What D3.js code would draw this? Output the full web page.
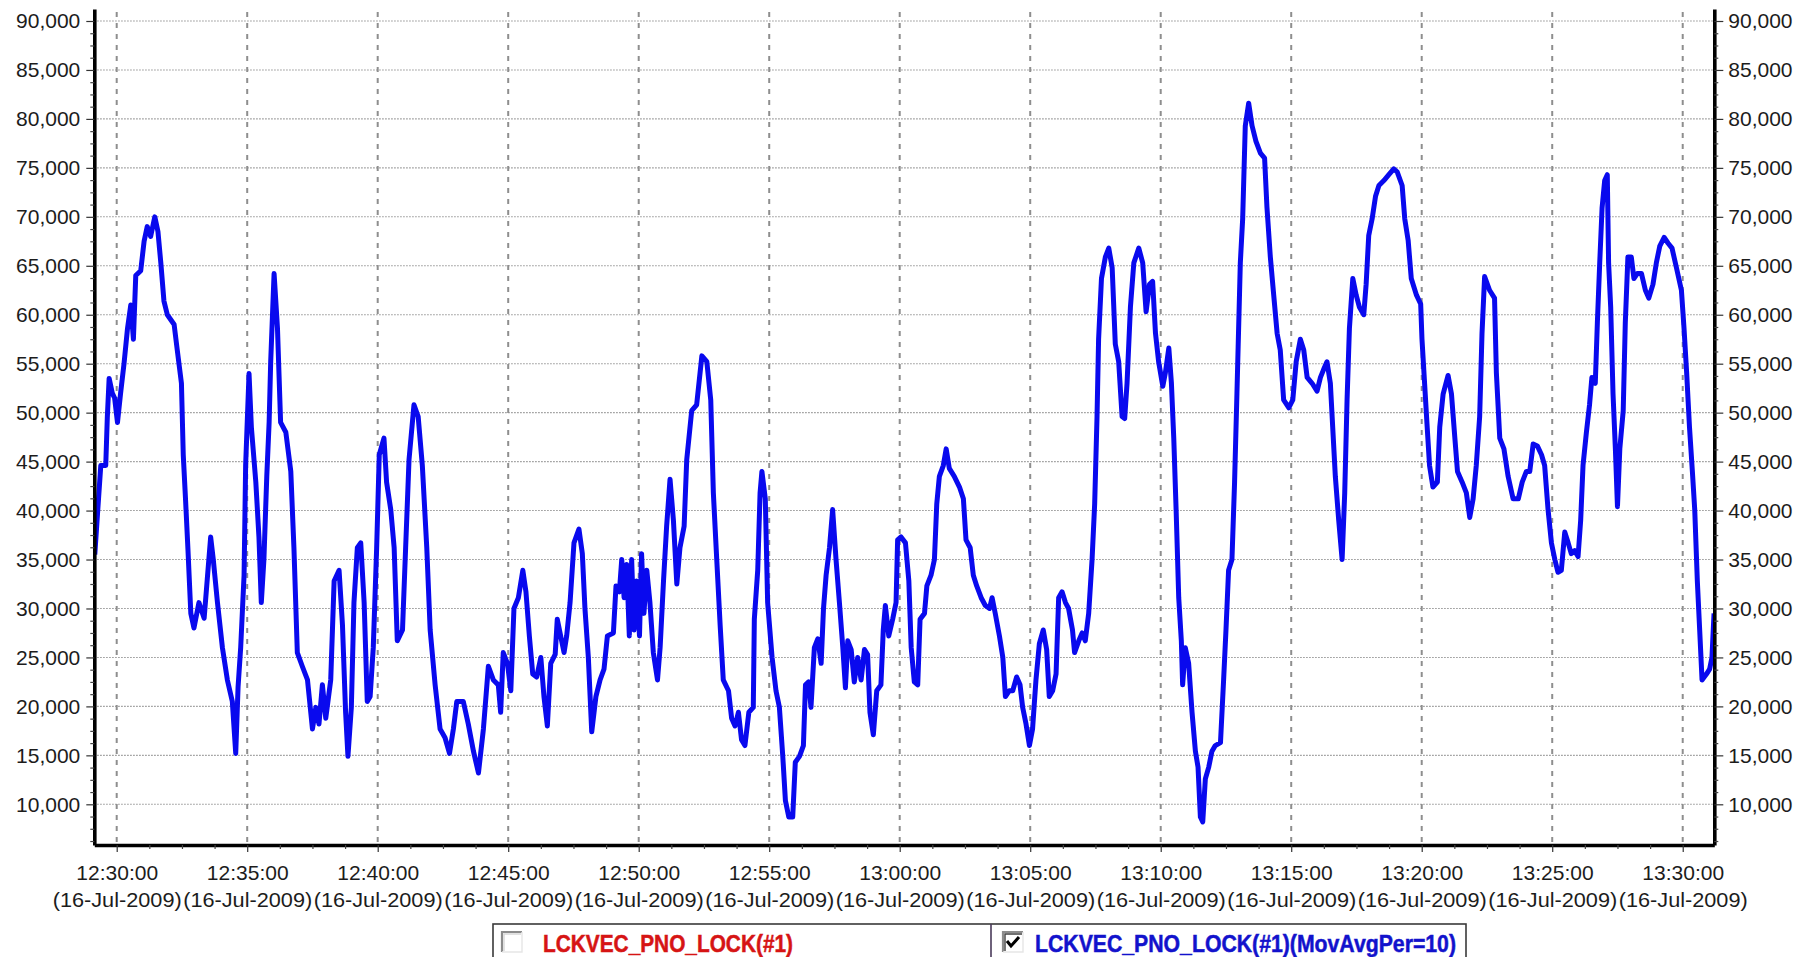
<!DOCTYPE html>
<html>
<head>
<meta charset="utf-8">
<script src="https://cdn.jsdelivr.net/npm/d3@7"></script>
<style>
  html, body { margin: 0; padding: 0; background: #ffffff; }
  svg { display: block; font-family: "Liberation Sans", Arial, sans-serif; }
</style>
</head>
<body>
<svg id="chart" width="1797" height="957"></svg>
<script>
// ---- data -------------------------------------------------------------
const startTime   = "2009-07-16T12:30:00";
const domainStart = "2009-07-16T12:29:08.500";
const domainEnd   = "2009-07-16T13:31:12.600";
const yDomain     = [5844, 91225];
const yTickValues = [10000, 15000, 20000, 25000, 30000, 35000, 40000, 45000, 50000,
                     55000, 60000, 65000, 70000, 75000, 80000, 85000, 90000];

// sample times, minutes after 12:30:00
const offsetMinutes = [
  -0.84, -0.74, -0.61, -0.42, -0.36, -0.29, -0.17, -0.08, 0.03, 0.15,
  0.28, 0.41, 0.54, 0.64, 0.73, 0.92, 1.05, 1.17, 1.30, 1.46,
  1.58, 1.69, 1.81, 1.94, 2.20, 2.32, 2.48, 2.55, 2.64, 2.73,
  2.84, 2.96, 3.15, 3.35, 3.47, 3.60, 3.70, 3.86, 4.05, 4.24,
  4.43, 4.56, 4.65, 4.75, 4.88, 4.94, 5.07, 5.16, 5.33, 5.45,
  5.54, 5.64, 5.75, 5.84, 5.90, 6.03, 6.16, 6.28, 6.48, 6.67,
  6.79, 6.92, 7.11, 7.31, 7.50, 7.63, 7.75, 7.88, 8.01, 8.20,
  8.33, 8.52, 8.65, 8.77, 8.86, 8.99, 9.09, 9.22, 9.35, 9.48,
  9.60, 9.71, 9.83, 9.96, 10.06, 10.24, 10.34, 10.50, 10.63, 10.75,
  10.95, 11.07, 11.20, 11.39, 11.55, 11.71, 11.88, 12.01, 12.20, 12.39,
  12.58, 12.75, 12.90, 13.03, 13.28, 13.47, 13.67, 13.86, 14.05, 14.24,
  14.43, 14.62, 14.71, 14.81, 14.97, 15.10, 15.22, 15.39, 15.56, 15.68,
  15.81, 15.94, 16.09, 16.25, 16.37, 16.50, 16.63, 16.80, 16.88, 17.01,
  17.14, 17.24, 17.37, 17.52, 17.71, 17.84, 17.94, 18.07, 18.20, 18.36,
  18.52, 18.67, 18.80, 19.03, 19.13, 19.26, 19.35, 19.44, 19.54, 19.64,
  19.73, 19.82, 19.92, 20.03, 20.11, 20.20, 20.31, 20.43, 20.56, 20.72,
  20.82, 20.95, 21.07, 21.20, 21.33, 21.46, 21.58, 21.74, 21.84, 22.03,
  22.22, 22.42, 22.61, 22.76, 22.86, 22.99, 23.12, 23.24, 23.44, 23.56,
  23.69, 23.82, 23.94, 24.07, 24.22, 24.39, 24.43, 24.56, 24.65, 24.72,
  24.85, 24.94, 25.11, 25.26, 25.39, 25.52, 25.62, 25.75, 25.90, 26.00,
  26.16, 26.31, 26.39, 26.51, 26.60, 26.73, 26.86, 26.99, 27.08, 27.18,
  27.31, 27.43, 27.56, 27.69, 27.82, 27.92, 28.01, 28.14, 28.26, 28.39,
  28.52, 28.65, 28.77, 28.86, 28.99, 29.12, 29.28, 29.37, 29.45, 29.58,
  29.73, 29.86, 29.92, 30.05, 30.22, 30.35, 30.44, 30.56, 30.69, 30.78,
  30.95, 31.04, 31.20, 31.33, 31.42, 31.52, 31.67, 31.78, 31.90, 32.09,
  32.29, 32.44, 32.54, 32.70, 32.82, 32.95, 33.12, 33.28, 33.44, 33.54,
  33.66, 33.82, 33.95, 34.05, 34.20, 34.33, 34.48, 34.61, 34.71, 34.84,
  34.97, 35.09, 35.22, 35.35, 35.50, 35.63, 35.73, 35.86, 35.99, 36.09,
  36.22, 36.35, 36.47, 36.62, 36.70, 36.86, 36.99, 37.11, 37.24, 37.37,
  37.47, 37.56, 37.62, 37.73, 37.88, 38.01, 38.14, 38.26, 38.39, 38.52,
  38.62, 38.71, 38.84, 38.97, 39.16, 39.31, 39.44, 39.57, 39.69, 39.80,
  39.92, 40.08, 40.18, 40.31, 40.41, 40.50, 40.59, 40.69, 40.79, 40.84,
  40.94, 41.07, 41.20, 41.33, 41.43, 41.52, 41.61, 41.71, 41.84, 41.96,
  42.09, 42.29, 42.41, 42.50, 42.60, 42.73, 42.83, 42.92, 43.05, 43.14,
  43.24, 43.37, 43.50, 43.65, 43.82, 43.98, 44.07, 44.20, 44.33, 44.46,
  44.58, 44.71, 44.91, 45.06, 45.19, 45.35, 45.48, 45.61, 45.80, 45.99,
  46.12, 46.24, 46.37, 46.50, 46.59, 46.69, 46.82, 46.95, 47.05, 47.14,
  47.23, 47.36, 47.49, 47.61, 47.78, 47.87, 47.97, 48.10, 48.23, 48.36,
  48.55, 48.74, 48.93, 49.06, 49.25, 49.35, 49.48, 49.60, 49.80, 49.96,
  50.01, 50.11, 50.21, 50.30, 50.43, 50.60, 50.69, 50.82, 51.01, 51.14,
  51.27, 51.37, 51.55, 51.71, 51.84, 51.97, 52.09, 52.22, 52.31, 52.41,
  52.60, 52.79, 52.86, 52.99, 53.15, 53.31, 53.50, 53.70, 53.85, 54.01,
  54.14, 54.27, 54.43, 54.59, 54.71, 54.84, 54.97, 55.10, 55.22, 55.35,
  55.48, 55.61, 55.73, 55.86, 55.99, 56.09, 56.18, 56.31, 56.43, 56.52,
  56.65, 56.73, 56.82, 56.91, 57.01, 57.11, 57.16, 57.24, 57.33, 57.42,
  57.50, 57.59, 57.72, 57.80, 57.90, 58.03, 58.13, 58.26, 58.42, 58.57,
  58.70, 58.86, 58.99, 59.12, 59.29, 59.44, 59.59, 59.76, 59.95, 60.05,
  60.15, 60.26, 60.37, 60.46, 60.56, 60.65, 60.74, 60.91, 61.03, 61.12,
  61.20
];

// LCKVEC_PNO_LOCK(#1), 10-period moving average
const lockCounts = [
  35500, 39500, 44600, 44600, 49500, 53500, 52000, 51500, 49000, 52000,
  55000, 58500, 61000, 57500, 64000, 64500, 67500, 69000, 68000, 70000,
  68500, 65300, 61400, 60000, 59000, 56400, 53000, 45700, 41000, 36000,
  29500, 28000, 30600, 29000, 33000, 37300, 35000, 30600, 26000, 22700,
  20500, 15200, 22000, 26000, 33400, 44600, 54000, 48500, 42900, 37300,
  30600, 35000, 43500, 49000, 55200, 64200, 58600, 49000, 48000, 44000,
  36200, 25500, 24100, 22700, 17700, 19900, 18200, 22200, 18800, 22700,
  32800, 33900, 28300, 19400, 14900, 19900, 30600, 36200, 36700, 30600,
  20500, 21000, 26000, 36200, 45700, 47400, 42900, 40100, 36200, 26700,
  27800, 36200, 45200, 50800, 49600, 44600, 36200, 27800, 22200, 17700,
  16800, 15200, 17700, 20500, 20500, 18200, 15400, 13200, 17700, 24100,
  22700, 22200, 19400, 25500, 24400, 21600, 30000, 31100, 33900, 31700,
  27200, 23300, 23000, 25000, 21000, 18000, 24400, 25300, 28900, 27200,
  25500, 27200, 30600, 36700, 38100, 35600, 30000, 25000, 17400, 21000,
  22700, 23800, 27200, 27500, 32300, 31700, 35000, 31100, 34500, 27200,
  35000, 27800, 32800, 27200, 35600, 29500, 33900, 30600, 25500, 22700,
  26000, 32800, 38400, 43200, 39000, 32500, 36200, 38400, 45200, 50200,
  50800, 55800, 55200, 51300, 41800, 35000, 28300, 22700, 21600, 18800,
  18000, 19400, 16600, 16000, 19400, 19900, 28900, 33900, 41800, 44000,
  41200, 30600, 25000, 21600, 19900, 14900, 10400, 8700, 8700, 14300,
  14900, 16000, 22200, 22500, 19900, 26000, 26900, 24400, 30000, 33400,
  36200, 40100, 35000, 30600, 26000, 21900, 26700, 25800, 22500, 25000,
  22700, 25800, 25300, 19400, 17100, 21600, 22200, 27800, 30300, 27200,
  28900, 30600, 37000, 37300, 36700, 32800, 26000, 22500, 22200, 28900,
  29500, 32300, 33400, 35000, 40700, 43500, 44600, 46300, 44300, 43500,
  42400, 41200, 37000, 36200, 33400, 32300, 31100, 30300, 30000, 31100,
  29500, 27200, 25000, 21000, 21600, 21600, 23000, 22200, 19900, 18200,
  16000, 17700, 22700, 26400, 27800, 25800, 21000, 21600, 23300, 31100,
  31700, 30600, 30000, 27800, 25500, 26700, 27500, 26700, 29500, 35000,
  40700, 49600, 57500, 63700, 65900, 66800, 64800, 57000, 55200, 49600,
  49400, 53000, 60800, 65300, 66800, 65300, 60300, 63100, 63400, 58100,
  55200, 52700, 54100, 56600, 53000, 47400, 40100, 31100, 26700, 22200,
  26000, 24400, 19400, 15400, 13800, 8700, 8200, 12600, 13800, 15400,
  16000, 16300, 22700, 27800, 33900, 35000, 42900, 51900, 65300, 69800,
  79300, 81600, 79300, 77700, 76500, 76000, 71000, 65900, 62000, 58100,
  56400, 51300, 50500, 51300, 55200, 57500, 56400, 53600, 53000, 52200,
  53600, 54400, 55200, 53000, 48500, 43500, 39000, 35000, 41800, 51300,
  58600, 63700, 62000, 60800, 60000, 63100, 68100, 69800, 72100, 73200,
  73700, 74300, 74900, 74600, 73200, 69800, 67600, 63700, 62000, 61100,
  57500, 53000, 48500, 44600, 42400, 42900, 48500, 51900, 53800, 51900,
  47400, 44000, 42900, 41800, 39300, 41200, 44600, 49600, 58100, 63900,
  62500, 61700, 54100, 47400, 46300, 43500, 41200, 41200, 42900, 44000,
  44000, 46800, 46600, 45700, 44600, 40100, 36700, 35000, 33700, 33900,
  37800, 36700, 35600, 35900, 35300, 39000, 44600, 48000, 50800, 53600,
  53000, 59200, 65300, 70900, 73700, 74300, 65300, 60800, 51900, 46300,
  40400, 46300, 50200, 59200, 65900, 65900, 63700, 64200, 64200, 62500,
  61700, 63100, 65300, 67000, 67900, 67300, 66800, 64800, 62500, 58600,
  54100, 48500, 44000, 40100, 32800, 27800, 22700, 23300, 23800, 25000,
  29500
];

const legendLabels  = ["LCKVEC_PNO_LOCK(#1)", "LCKVEC_PNO_LOCK(#1)(MovAvgPer=10)"];
const legendColors  = ["#d61414", "#1212cc"];
const legendChecked = [false, true];

// ---- layout -----------------------------------------------------------
const plot = { left: 94.3, right: 1714.3, top: 9, bottom: 845 };
const lineColor = "#0909ee";
const textColor = "#1c1c1c";

const svg = d3.select("#chart");

const t0 = new Date(startTime);
const points = offsetMinutes.map((m, i) => ({
  time: new Date(t0.getTime() + m * 60000),
  value: lockCounts[i]
}));

const x = d3.scaleTime()
  .domain([new Date(domainStart), new Date(domainEnd)])
  .range([plot.left, plot.right]);

const y = d3.scaleLinear()
  .domain(yDomain)
  .range([plot.bottom, plot.top]);

const xMajor = d3.timeMinute.every(5).range(x.domain()[0], x.domain()[1]);
const xMinor = d3.range(-2, 60)
  .map(k => new Date(t0.getTime() + k * 75000))
  .filter(d => d > x.domain()[0] && d < x.domain()[1] && (d - t0) % 300000 !== 0);
const yMinor = d3.range(5000, 92500, 1250)
  .filter(v => v > yDomain[0] && v < yDomain[1] && v % 5000 !== 0);

// ---- grid -------------------------------------------------------------
const grid = svg.append("g").attr("class", "grid");
grid.selectAll("line.h")
  .data(yTickValues)
  .join("line")
  .attr("class", "h")
  .attr("x1", plot.left).attr("x2", plot.right)
  .attr("y1", d => y(d)).attr("y2", d => y(d))
  .attr("stroke", "#808080")
  .attr("stroke-width", 1.1)
  .attr("stroke-dasharray", "1.3,1.7");

grid.selectAll("line.v")
  .data(xMajor)
  .join("line")
  .attr("class", "v")
  .attr("x1", d => x(d)).attr("x2", d => x(d))
  .attr("y1", plot.top + 3).attr("y2", plot.bottom)
  .attr("stroke", "#8e8e8e")
  .attr("stroke-width", 2)
  .attr("stroke-dasharray", "5,6");

// ---- series line --------------------------------------------------------
svg.append("clipPath").attr("id", "plot-clip")
  .append("rect")
  .attr("x", plot.left).attr("y", plot.top)
  .attr("width", plot.right - plot.left)
  .attr("height", plot.bottom - plot.top);

const line = d3.line()
  .x(d => x(d.time))
  .y(d => y(d.value))
  .curve(d3.curveLinear);

svg.append("path")
  .datum(points)
  .attr("clip-path", "url(#plot-clip)")
  .attr("fill", "none")
  .attr("stroke", lineColor)
  .attr("stroke-width", 5)
  .attr("stroke-linejoin", "round")
  .attr("stroke-linecap", "butt")
  .attr("d", line);

// ---- axes ---------------------------------------------------------------
const fmtNum  = d3.format(",");
const fmtTime = d3.timeFormat("%H:%M:%S");
const fmtDate = d3.timeFormat("(%d-%b-%Y)");

function styleAxis(g, lineWidth) {
  g.attr("font-family", null).attr("font-size", null);
  g.select(".domain").attr("stroke", "#000").attr("stroke-width", lineWidth);
  g.selectAll(".tick line").attr("stroke", "#333").attr("stroke-width", 1.2);
  g.selectAll(".tick text")
    .attr("fill", textColor)
    .style("font-size", "21px")
    .style("font-family", "'Liberation Sans', Arial, sans-serif");
}

// left axis
const yLeft = svg.append("g")
  .attr("transform", `translate(${plot.left},0)`)
  .call(d3.axisLeft(y).tickValues(yTickValues).tickFormat(fmtNum)
    .tickSize(8).tickSizeOuter(0).tickPadding(6));
styleAxis(yLeft, 3.6);

svg.append("g")
  .attr("transform", `translate(${plot.left},0)`)
  .call(d3.axisLeft(y).tickValues(yMinor).tickFormat("").tickSize(4).tickSizeOuter(0))
  .call(g => g.select(".domain").remove())
  .call(g => g.selectAll(".tick line").attr("stroke", "#444").attr("stroke-width", 1.2));

// right axis
const yRight = svg.append("g")
  .attr("transform", `translate(${plot.right},0)`)
  .call(d3.axisRight(y).tickValues(yTickValues).tickFormat(fmtNum)
    .tickSize(9).tickSizeOuter(0).tickPadding(5));
styleAxis(yRight, 3.6);

svg.append("g")
  .attr("transform", `translate(${plot.right},0)`)
  .call(d3.axisRight(y).tickValues(yMinor).tickFormat("").tickSize(4).tickSizeOuter(0))
  .call(g => g.select(".domain").remove())
  .call(g => g.selectAll(".tick line").attr("stroke", "#444").attr("stroke-width", 1.2));

// bottom axis with two-line time labels
const xAxisG = svg.append("g")
  .attr("transform", `translate(0,${plot.bottom})`)
  .call(d3.axisBottom(x).tickValues(xMajor).tickFormat(fmtTime)
    .tickSize(7).tickSizeOuter(0));
styleAxis(xAxisG, 3.6);
xAxisG.selectAll(".tick text").each(function (d) {
  const t = d3.select(this).text(null).attr("y", null).attr("dy", null);
  t.append("tspan").attr("x", 0).attr("y", 35).text(fmtTime(d));
  t.append("tspan").attr("x", -64.5).attr("y", 62)
    .attr("text-anchor", "start")
    .attr("textLength", 129)
    .attr("lengthAdjust", "spacingAndGlyphs")
    .text(fmtDate(d));
});

svg.append("g")
  .attr("transform", `translate(0,${plot.bottom})`)
  .call(d3.axisBottom(x).tickValues(xMinor).tickFormat("").tickSize(4).tickSizeOuter(0))
  .call(g => g.select(".domain").remove())
  .call(g => g.selectAll(".tick line").attr("stroke", "#444").attr("stroke-width", 1.2));

// ---- legend -------------------------------------------------------------
const legend = svg.append("g").attr("class", "legend");
const legendBox = { x: 493, y: 924, w: 973, h: 50, divider: 991 };
const cells = [
  { x0: legendBox.x, box: 502, text: 543, width: 250 },
  { x0: legendBox.divider, box: 1003, text: 1035, width: 421 }
];

legend.append("rect")
  .attr("x", legendBox.x).attr("y", legendBox.y)
  .attr("width", legendBox.w).attr("height", legendBox.h)
  .attr("fill", "#ffffff")
  .attr("stroke", "#3a3a3a").attr("stroke-width", 1.6);
legend.append("line")
  .attr("x1", legendBox.divider).attr("x2", legendBox.divider)
  .attr("y1", legendBox.y).attr("y2", legendBox.y + legendBox.h)
  .attr("stroke", "#4a3a5a").attr("stroke-width", 1.6);

legendLabels.forEach((label, i) => {
  const c = cells[i];
  const g = legend.append("g");
  const bx = c.box, by = 932, bs = 20;
  // sunken check box
  g.append("rect").attr("x", bx).attr("y", by).attr("width", bs).attr("height", bs)
    .attr("fill", "#ffffff");
  g.append("path")
    .attr("d", `M${bx},${by + bs} V${by} H${bx + bs}`)
    .attr("fill", "none").attr("stroke", "#8c8c8c").attr("stroke-width", 2.2);
  g.append("path")
    .attr("d", `M${bx + 2},${by + bs - 1} V${by + 2} H${bx + bs - 1}`)
    .attr("fill", "none").attr("stroke", legendChecked[i] ? "#404040" : "#d8d8d8")
    .attr("stroke-width", 1.4);
  g.append("path")
    .attr("d", `M${bx + bs},${by} V${by + bs} H${bx}`)
    .attr("fill", "none").attr("stroke", "#e6e6e6").attr("stroke-width", 1.4);
  if (legendChecked[i]) {
    g.append("path")
      .attr("d", `M${bx + 4},${by + 9} L${bx + 8},${by + 14} L${bx + 16},${by + 5}`)
      .attr("fill", "none").attr("stroke", "#000").attr("stroke-width", 3);
  }
  g.append("text")
    .attr("x", c.text).attr("y", 952)
    .attr("fill", legendColors[i])
    .attr("font-family", "'Liberation Sans Narrow', 'Liberation Sans', Arial, sans-serif")
    .attr("font-weight", "bold")
    .attr("font-size", 24)
    .attr("stroke", legendColors[i])
    .attr("stroke-width", 0.5)
    .attr("textLength", c.width)
    .attr("lengthAdjust", "spacingAndGlyphs")
    .text(label);
});
</script>
</body>
</html>
